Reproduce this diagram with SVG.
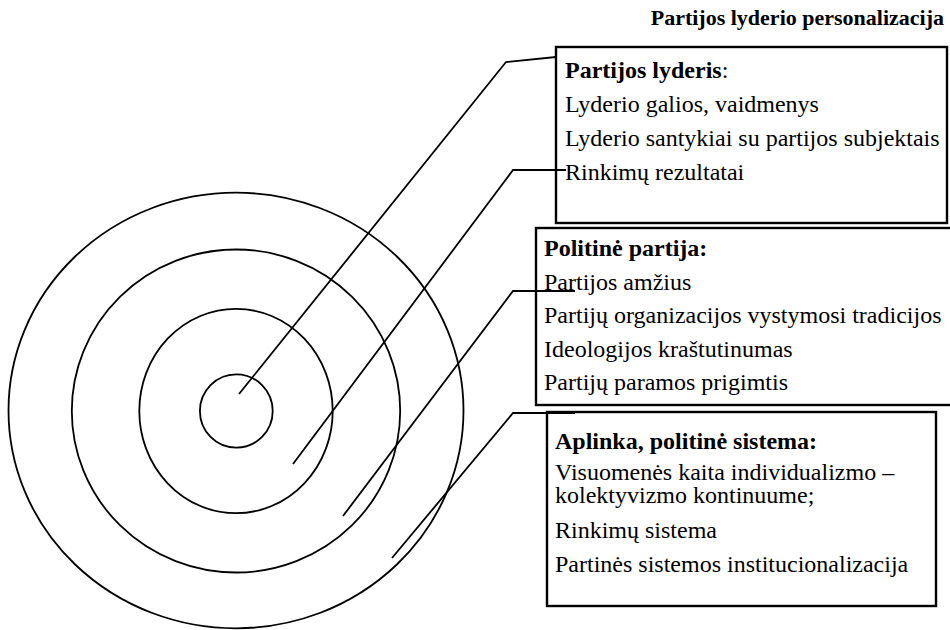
<svg xmlns="http://www.w3.org/2000/svg" width="950" height="630" viewBox="0 0 950 630">
<style>
.bg{fill:#ffffff}
.ring{fill:none;stroke:#000;stroke-width:1.8}
.box{fill:#ffffff;stroke:#000;stroke-width:2.4}
.conn{fill:none;stroke:#000;stroke-width:1.8;stroke-linejoin:miter}
text{font-family:"Liberation Serif","Times New Roman",serif;font-size:24px;fill:#000}
.b{font-weight:bold}
.title{font-weight:bold;font-size:22px}
</style>
<rect class="bg" x="0" y="0" width="950" height="630"/>
<text class="title" x="944" y="25" text-anchor="end">Partijos lyderio personalizacija</text>
<g id="rings">
  <ellipse id="ring-outer" class="ring" cx="236" cy="410.5" rx="227.5" ry="217.8"/>
  <ellipse id="ring-3" class="ring" cx="236" cy="411" rx="164.2" ry="161.5"/>
  <ellipse id="ring-2" class="ring" cx="236" cy="411" rx="96.7" ry="102.2"/>
  <ellipse id="ring-inner" class="ring" cx="236.3" cy="411" rx="36.4" ry="36.7"/>
</g>
<g id="node-lyderis">
  <rect class="box" x="556" y="47" width="391" height="176"/>
  <text x="565" y="78"><tspan class="b">Partijos lyderis</tspan>:</text>
  <text x="565" y="112">Lyderio galios, vaidmenys</text>
  <text x="565" y="146">Lyderio santykiai su partijos subjektais</text>
  <text x="565" y="180">Rinkimų rezultatai</text>
</g>
<g id="node-partija">
  <rect class="box" x="536" y="228" width="420" height="177"/>
  <text class="b" x="544" y="256">Politinė partija:</text>
  <text x="544" y="290">Partijos amžius</text>
  <text x="544" y="323">Partijų organizacijos vystymosi tradicijos</text>
  <text x="544" y="357">Ideologijos kraštutinumas</text>
  <text x="544" y="390">Partijų paramos prigimtis</text>
</g>
<g id="node-aplinka">
  <rect class="box" x="547" y="412" width="389" height="194"/>
  <text class="b" x="555" y="449">Aplinka, politinė sistema:</text>
  <text x="555" y="480">Visuomenės kaita individualizmo –</text>
  <text x="555" y="503">kolektyvizmo kontinuume;</text>
  <text x="555" y="538">Rinkimų sistema</text>
  <text x="555" y="572">Partinės sistemos institucionalizacija</text>
</g>
<g id="connectors">
  <polyline class="conn" points="239,394 506,62 556,57"/>
  <polyline class="conn" points="293,464 513,170 566,170"/>
  <polyline class="conn" points="343,516 513,291 575,291"/>
  <polyline class="conn" points="392,558 513,413 575,413"/>
</g>
</svg>
